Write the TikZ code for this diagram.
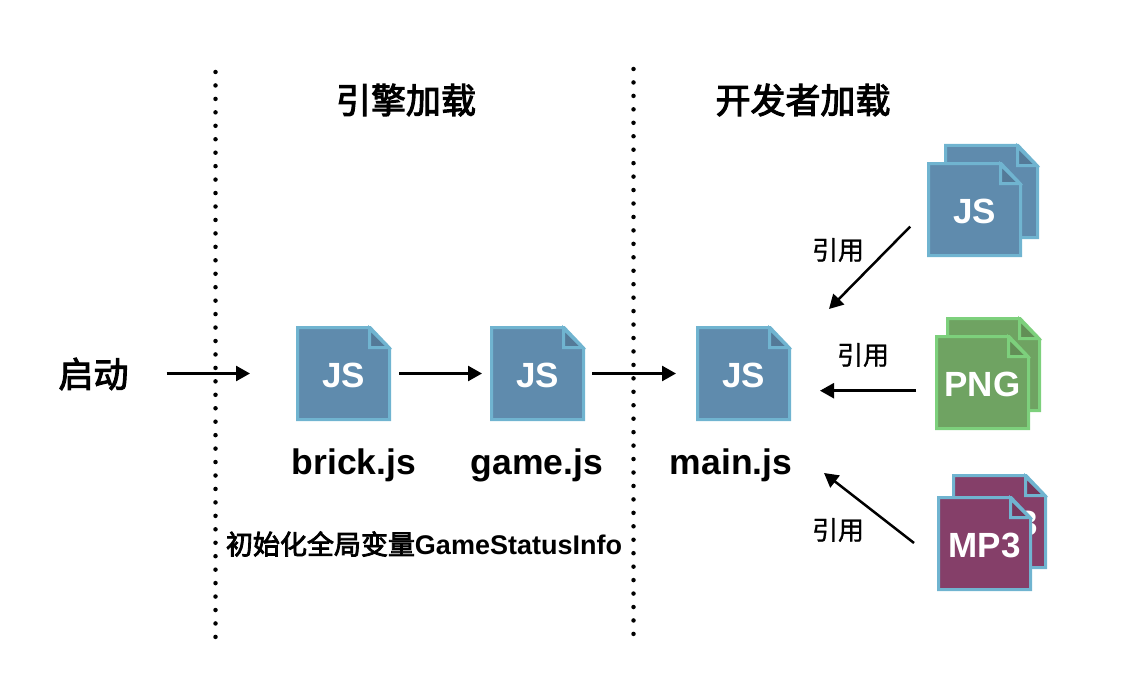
\documentclass[tikz,border=0pt]{standalone}
\usepackage{fontspec}
\setmainfont{Liberation Sans}
\newfontfamily\cjk{Noto Sans CJK SC}[FakeBold=3]
\newfontfamily\cjklight{Noto Sans CJK SC}[FakeBold=1]
\usetikzlibrary{arrows.meta}
\definecolor{jsfill}{HTML}{5F8BAD}
\definecolor{jsline}{HTML}{70B4D0}
\definecolor{pngfill}{HTML}{6FA362}
\definecolor{pngline}{HTML}{7DD07C}
\definecolor{mpfill}{HTML}{853F69}
\tikzset{
  link/.style={line width=2.5pt,-{Triangle[length=14pt,width=15pt]}},
  sepline/.style={line width=4.5pt,line cap=round,dash pattern=on 0pt off 13.45pt},
  filename/.style={inner sep=0pt,anchor=base,font=\bfseries\fontsize{35.5}{40}\selectfont},
  title/.style={inner sep=0pt,font=\cjk\fontsize{35}{40}\selectfont},
  note/.style={inner sep=0pt,font=\cjklight\fontsize{26}{30}\selectfont},
  docbox/.style={minimum size=95pt,inner sep=0pt,outer sep=0pt,text height=27pt,text depth=0pt,text=white,font=\bfseries\fontsize{35}{40}\selectfont}
}
% name, left, top, fill, line, label
\newcommand{\docicon}[6]{
  \begin{scope}[shift={(#2,#3)}]
    \draw[line width=3pt,fill=#4,draw=#5,line join=miter] (1.5,1.5) -- (74,1.5) -- (93.5,22) -- (93.5,93.5) -- (1.5,93.5) -- cycle;
    \draw[line width=3pt,fill=#4!88!black,draw=#5] (73.5,2.5) -- (73.5,21.5) -- (92.5,21.5) -- cycle;
    \node[docbox] (#1) at (47.5,47.5) {#6};
  \end{scope}
}
\begin{document}
\begin{tikzpicture}[x=1pt,y=-1pt]
  \useasboundingbox (0,0) rectangle (1132,698);

  \coordinate (sepAtop) at (215.5,72);
  \coordinate (sepAend) at (215.5,640);
  \coordinate (sepBtop) at (633.5,69);
  \coordinate (sepBend) at (633.5,638);
  \draw[sepline] (sepAtop) -- (sepAend);
  \draw[sepline] (sepBtop) -- (sepBend);

  \node[title] (engineTitle) at (406,100) {引擎加载};
  \node[title] (devTitle) at (803,100) {开发者加载};
  \node[title] (boot) at (93.5,374) {启动};

  \docicon{brick}{296}{326}{jsfill}{jsline}{JS}
  \docicon{game}{490}{326}{jsfill}{jsline}{JS}
  \docicon{main}{696}{326}{jsfill}{jsline}{JS}

  \node[filename] (brickName) at (354,474.5) {brick.js};
  \node[filename] (gameName) at (537,474.5) {game.js};
  \node[filename] (mainName) at (731,474.5) {main.js};
  \node[note,font=\cjk\fontsize{27}{30}\selectfont] (initNote) at (424,544) {初始化全局变量\textbf{\rmfamily GameStatusInfo}};

  \docicon{jsBack}{944}{144}{jsfill}{jsline}{}
  \docicon{jsFront}{927}{162}{jsfill}{jsline}{JS}
  \docicon{pngBack}{946}{317}{pngfill}{pngline}{}
  \docicon{pngFront}{935}{335}{pngfill}{pngline}{PNG}
  \docicon{mpBack}{952}{474}{mpfill}{jsline}{\hspace{4pt}MP3}
  \docicon{mpFront}{937}{496}{mpfill}{jsline}{MP3}

  \node[note] (jsRef) at (838,250) {引用};
  \node[note] (pngRef) at (863,355) {引用};
  \node[note] (mpRef) at (838,530) {引用};

  \draw[link,shorten <=38pt,shorten >=46pt] (boot.east |- brick.west) -- (brick.west);
  \draw[link,shorten <=8pt,shorten >=8pt] (brick) -- (game);
  \draw[link,shorten <=7pt,shorten >=20pt] (game) -- (main);

  \coordinate (jsTip) at (829,309);
  \coordinate (pngStart) at (916,390.7);
  \coordinate (pngTip) at (820,390.7);
  \coordinate (mpStart) at (914,543);
  \coordinate (mpTip) at (824,473);
  \draw[link,shorten <=24pt] (jsFront.west) -- (jsTip);
  \draw[link] (pngStart) -- (pngTip);
  \draw[link] (mpStart) -- (mpTip);
\end{tikzpicture}
\end{document}
